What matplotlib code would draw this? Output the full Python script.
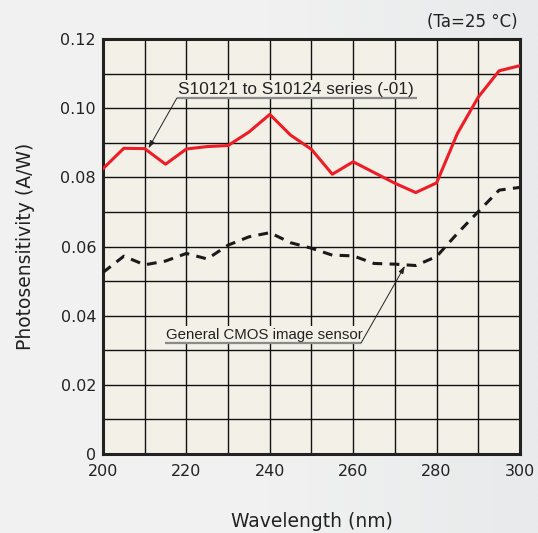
import numpy as np
import matplotlib
matplotlib.use("Agg")
import matplotlib.pyplot as plt
from matplotlib.ticker import MultipleLocator, FuncFormatter

# Spectral response, 200-300 nm
wavelength = [200, 205, 210, 215, 220, 225, 230, 235, 240, 245, 250,
              255, 260, 265, 270, 275, 280, 285, 290, 295, 300]
s10121_series = [0.0825, 0.0884, 0.0883, 0.0838, 0.0882, 0.0889, 0.0892, 0.0931, 0.0982, 0.0922, 0.0881,
                 0.0809, 0.0845, 0.0814, 0.0783, 0.0756, 0.0784, 0.0927, 0.1032, 0.1108, 0.1123]
general_cmos = [0.0525, 0.0572, 0.0547, 0.0558, 0.0580, 0.0564, 0.0604, 0.0628, 0.0640, 0.0611, 0.0595,
                0.0575, 0.0573, 0.0551, 0.0549, 0.0545, 0.0571, 0.0638, 0.0701, 0.0763, 0.0771]

x_ticks = [200, 220, 240, 260, 280, 300]
y_ticks = [0, 0.02, 0.04, 0.06, 0.08, 0.10, 0.12]

plt.rcParams['font.family'] = ['DejaVu Sans']

fig = plt.figure(figsize=(5.38, 5.33), dpi=100)
fig.patch.set_facecolor('#f1f2f2')

# soft left-to-right shading behind everything
bg = fig.add_axes([0, 0, 1, 1], zorder=-10)
grad = np.linspace(0, 1, 256).reshape(1, -1)
bg.imshow(grad, aspect='auto', cmap=matplotlib.colors.LinearSegmentedColormap.from_list(
    'bg', ['#f2f2f2', '#f1f1f1', '#e8eaeb']), extent=[0, 1, 0, 1])
bg.axis('off')

plot_bg = '#f3f0e8'
ax = fig.add_axes([0.1914, 0.1482, 0.7751, 0.7786])
ax.set_facecolor(plot_bg)

ax.plot(wavelength, s10121_series, color='#ee1c25', lw=2.2, zorder=3)
ax.plot(wavelength, general_cmos, color='#1a1a1a', lw=2.2, dashes=(3.2, 2.4), zorder=3)

ax.set_xlim(200, 300)
ax.set_ylim(0, 0.12)
ax.set_xticks(x_ticks)
ax.set_yticks(y_ticks)
ax.xaxis.set_minor_locator(MultipleLocator(10))
ax.yaxis.set_minor_locator(MultipleLocator(0.01))
ax.yaxis.set_major_formatter(FuncFormatter(lambda v, p: '0' if v == 0 else '%.2f' % v))
ax.grid(which='both', color='#111111', lw=1.0, zorder=1)
ax.set_axisbelow(True)
ax.tick_params(which='both', length=0, labelsize=11.5, colors='#222222')
ax.tick_params(axis='x', pad=7)
ax.tick_params(axis='y', pad=5)

for sp in ax.spines.values():
    sp.set_linewidth(2.2)
    sp.set_color('#222222')

ax.set_xlabel('Wavelength (nm)', fontsize=13.5, color='#222222', labelpad=24)
ax.set_ylabel('Photosensitivity (A/W)', fontsize=13.5, color='#222222', labelpad=18)

# callout labels: text on a plain patch, grey underline, thin leader arrow
callout_font = ['Liberation Sans', 'DejaVu Sans']
label_box = dict(facecolor=plot_bg, edgecolor='none', pad=1.5)
arrow = dict(arrowstyle='-|>,head_length=0.45,head_width=0.15', color='#222222',
             lw=0.7, shrinkA=0, shrinkB=0)

ax.text(217.9, 0.1032, 'S10121 to S10124 series (-01)', fontsize=12.4, family=callout_font,
        color='#222222', va='bottom', ha='left', zorder=4, bbox=label_box)
ax.plot([217.7, 275.3], [0.1029, 0.1029], color='#8a8a8a', lw=1.6, zorder=5, solid_capstyle='butt')
ax.annotate('', xy=(210.9, 0.0884), xytext=(217.7, 0.1029), arrowprops=arrow, zorder=5)

ax.text(215.0, 0.0324, 'General CMOS image sensor', fontsize=10.8, family=callout_font,
        color='#222222', va='bottom', ha='left', zorder=4, bbox=label_box)
ax.plot([214.9, 261.9], [0.0321, 0.0321], color='#8a8a8a', lw=1.6, zorder=5, solid_capstyle='butt')
ax.annotate('', xy=(272.4, 0.0544), xytext=(261.9, 0.0321), arrowprops=arrow, zorder=5)

fig.text(0.963, 0.958, '(Ta=25 °C)', fontsize=12, color='#222222', ha='right', va='center')

fig.savefig('out.png', dpi=100, facecolor=fig.get_facecolor())
